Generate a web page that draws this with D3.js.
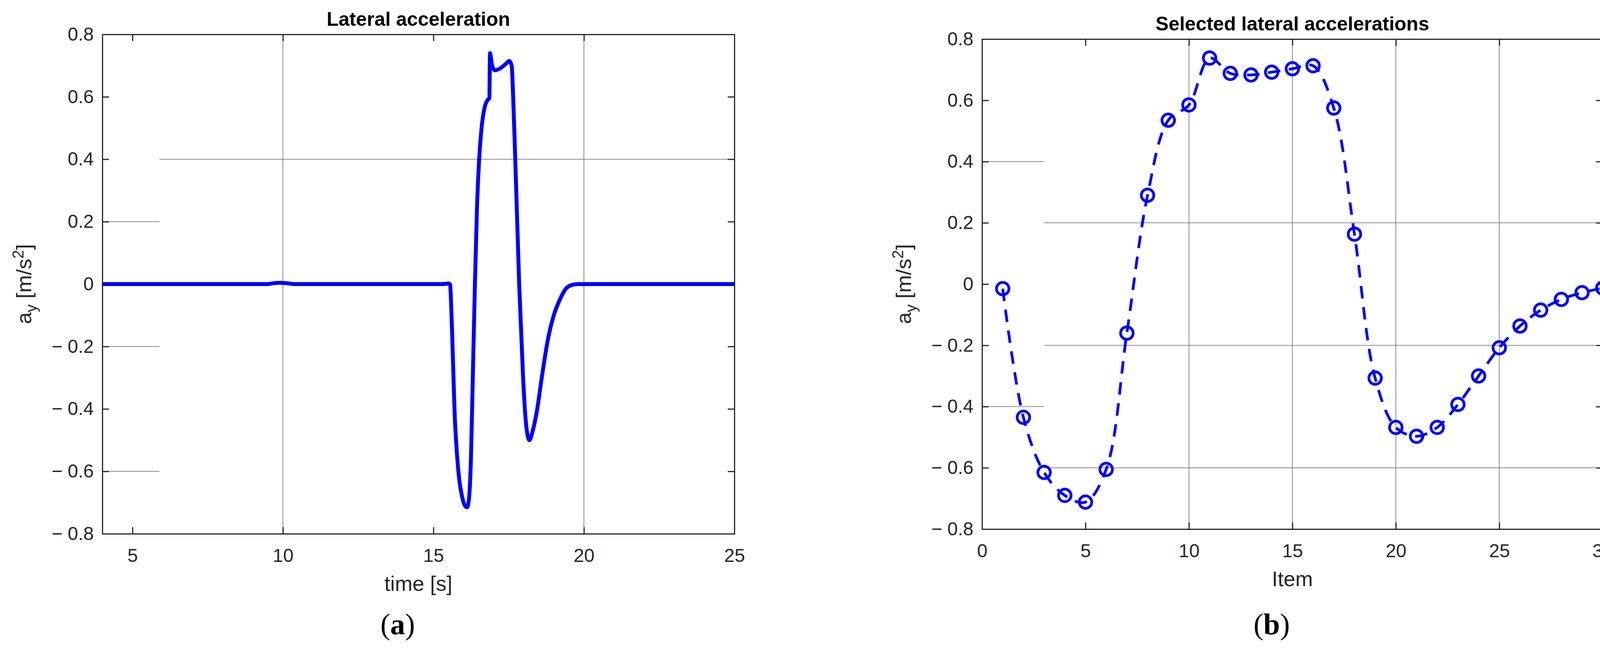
<!DOCTYPE html>
<html>
<head>
<meta charset="utf-8">
<script src="https://cdn.jsdelivr.net/npm/d3@7"></script>
<style>
  body { margin: 0; background: #fff; }
  text { font-family: "Liberation Sans Narrow", "Liberation Sans", Arial, sans-serif; fill: #262626; }
  .title { font-weight: bold; fill: #000; }
  .cap { font-family: "Liberation Serif", "DejaVu Serif", serif; fill: #000; }
</style>
</head>
<body>
<svg id="chart" width="4150" height="1666"></svg>
<script>
// panel (a): lateral acceleration over time
const timeS = [4, 9.5, 9.7, 9.9, 10.1, 10.4, 10.7, 15.3, 15.5, 15.55, 15.62, 15.7, 15.83, 15.95, 16.05, 16.12, 16.18, 16.25, 16.32, 16.38, 16.45, 16.52, 16.6, 16.7, 16.8, 16.86, 16.88, 16.95, 17.05, 17.2, 17.4, 17.52, 17.6, 17.65, 17.72, 17.85, 17.98, 18.08, 18.19, 18.3, 18.45, 18.6, 18.8, 19.0, 19.2, 19.4, 19.6, 19.8, 25];
const ayTime = [0, 0, 0.003, 0.004, 0.003, 0, 0, 0, 0.002, 0, -0.15, -0.4, -0.6, -0.68, -0.71, -0.715, -0.69, -0.55, -0.25, 0, 0.25, 0.4, 0.5, 0.565, 0.59, 0.595, 0.74, 0.7, 0.685, 0.69, 0.705, 0.715, 0.7, 0.6, 0.4, 0, -0.3, -0.45, -0.5, -0.47, -0.4, -0.3, -0.18, -0.1, -0.05, -0.015, -0.003, 0, 0];
// panel (b): selected lateral accelerations by item
const items = d3.range(1, 31);
const aySel = [-0.015, -0.435, -0.615, -0.69, -0.712, -0.605, -0.16, 0.29, 0.535, 0.585, 0.738, 0.688, 0.683, 0.692, 0.703, 0.713, 0.575, 0.163, -0.307, -0.468, -0.497, -0.468, -0.393, -0.3, -0.208, -0.137, -0.085, -0.05, -0.028, -0.013];
const yTicks = [-0.8, -0.6, -0.4, -0.2, 0, 0.2, 0.4, 0.6, 0.8];
const xTicksA = [5, 10, 15, 20, 25];
const xTicksB = [0, 5, 10, 15, 20, 25, 30];

const svg = d3.select('#chart');
const blue = '#0000ff';
const fmt = v => v < 0 ? '\u2212 ' + d3.format('.1f')(-v) : (v === 0 ? '0' : d3.format('.1f')(v));

function panel(o) {
  const x = d3.scaleLinear().domain(o.xDomain).range([o.left, o.right]);
  const y = d3.scaleLinear().domain([-0.8, 0.8]).range([o.bottom, o.top]);
  const g = svg.append('g');

  // odd partial grid as in the original
  o.vGrid.forEach(v => g.append('line').attr('x1', x(v)).attr('x2', x(v))
    .attr('y1', o.top).attr('y2', o.bottom).attr('stroke', '#666').attr('stroke-width', 1.5));
  o.hGrid.forEach(h => g.append('line').attr('x1', x(h.from)).attr('x2', x(h.to))
    .attr('y1', y(h.v)).attr('y2', y(h.v)).attr('stroke', '#666').attr('stroke-width', 1.5));

  const tl = 17;
  const axB = g.append('g').attr('transform', `translate(0,${o.bottom})`)
    .call(d3.axisBottom(x).tickValues(o.xTicks).tickSize(-tl).tickPadding(38).tickFormat(d3.format('d')));
  const axT = g.append('g').attr('transform', `translate(0,${o.top})`)
    .call(d3.axisTop(x).tickValues(o.xTicks).tickSize(-tl).tickFormat(''));
  const axL = g.append('g').attr('transform', `translate(${o.left},0)`)
    .call(d3.axisLeft(y).tickValues(yTicks).tickSize(-tl).tickPadding(22).tickFormat(fmt));
  const axR = g.append('g').attr('transform', `translate(${o.right},0)`)
    .call(d3.axisRight(y).tickValues(yTicks).tickSize(-tl).tickFormat(''));
  [axB, axT, axL, axR].forEach(a => {
    a.select('.domain').attr('stroke', '#262626').attr('stroke-width', 3);
    a.selectAll('.tick line').attr('stroke', '#262626').attr('stroke-width', 3);
    a.selectAll('text').attr('font-size', 48).attr('fill', '#262626')
      .style('font-family', '"Liberation Sans Narrow", "Liberation Sans", Arial, sans-serif');
  });

  const cx = (o.left + o.right) / 2;
  g.append('text').attr('class', 'title').attr('x', cx).attr('y', o.top - 22)
    .attr('text-anchor', 'middle').attr('font-size', 50).text(o.title);
  g.append('text').attr('x', cx).attr('y', o.bottom + 146)
    .attr('text-anchor', 'middle').attr('font-size', 54).text(o.xLabel);
  const yl = g.append('text').attr('text-anchor', 'middle').attr('font-size', 54)
    .attr('transform', `translate(${o.left - 182},${(o.top + o.bottom) / 2}) rotate(-90)`);
  yl.append('tspan').text('a');
  yl.append('tspan').attr('font-size', 40).attr('dy', 14).text('y');
  yl.append('tspan').attr('dy', -14).text(' [m/s');
  yl.append('tspan').attr('font-size', 40).attr('dy', -20).text('2');
  yl.append('tspan').attr('dy', 20).text(']');
  const cap = g.append('text').attr('class', 'cap').attr('x', cx - 53).attr('y', 1623)
    .attr('text-anchor', 'middle').attr('font-size', 76);
  cap.append('tspan').text('(');
  cap.append('tspan').attr('font-weight', 'bold').text(o.cap);
  cap.append('tspan').text(')');
  return { x, y, g };
}

// panel (a)
const pa = panel({
  left: 262, right: 1880, top: 88, bottom: 1366, xDomain: [4, 25], xTicks: xTicksA,
  vGrid: [10, 20], hGrid: [{ v: 0.4, from: 5.9, to: 25 }, { v: 0.2, from: 4, to: 5.9 }, { v: -0.2, from: 4, to: 5.9 }, { v: -0.6, from: 4, to: 5.9 }],
  title: 'Lateral acceleration', xLabel: 'time [s]', cap: 'a'
});
pa.g.append('path')
  .datum(timeS.map((t, i) => [t, ayTime[i]]))
  .attr('fill', 'none').attr('stroke', blue).attr('stroke-width', 10).attr('stroke-linejoin', 'round')
  .attr('d', d3.line().x(d => pa.x(d[0])).y(d => pa.y(d[1])).curve(d3.curveMonotoneX));

// panel (b)
const pb = panel({
  left: 2514, right: 4103, top: 100, bottom: 1354, xDomain: [0, 30], xTicks: xTicksB,
  vGrid: [10, 15, 20, 25], hGrid: [{ v: 0.2, from: 3, to: 30 }, { v: -0.2, from: 3, to: 30 }, { v: -0.6, from: 3, to: 30 }, { v: 0.4, from: 0, to: 3 }, { v: -0.4, from: 0, to: 3 }],
  title: 'Selected lateral accelerations', xLabel: 'Item', cap: 'b'
});
pb.g.append('path')
  .datum(items.map((t, i) => [t, aySel[i]]))
  .attr('fill', 'none').attr('stroke', blue).attr('stroke-width', 7).attr('stroke-dasharray', '32,22')
  .attr('d', d3.line().x(d => pb.x(d[0])).y(d => pb.y(d[1])).curve(d3.curveCatmullRom));
pb.g.selectAll('circle.m').data(items).enter().append('circle').attr('class', 'm')
  .attr('cx', d => pb.x(d)).attr('cy', (d, i) => pb.y(aySel[i])).attr('r', 16)
  .attr('fill', 'none').attr('stroke', blue).attr('stroke-width', 7);
</script>
</body>
</html>
